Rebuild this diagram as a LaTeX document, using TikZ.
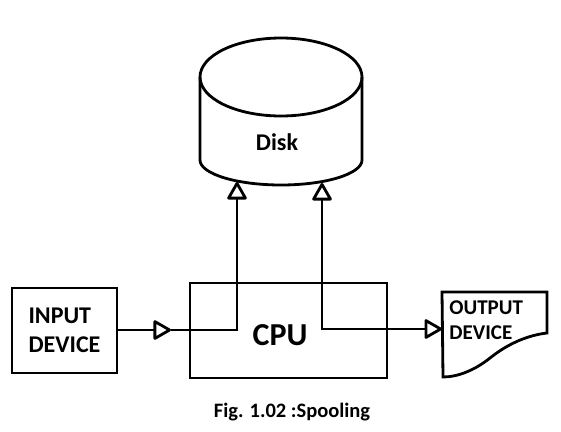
\documentclass[tikz,border=0pt]{standalone}
\usepackage{fontspec}
\setmainfont{Carlito}
\usetikzlibrary{arrows.meta}
\begin{document}
\begin{tikzpicture}[x=1pt,y=-1pt,
  line width=2.8pt,
  box/.style={draw, line width=2.8pt, inner sep=0pt},
  lbl/.style={font=\bfseries\fontsize{24}{29}\selectfont, align=left, inner sep=0pt},
  tri/.style={-{Triangle[open, length=19pt, width=21pt, round]}},
  tritwo/.style={{Triangle[open, length=19pt, width=21pt, round]}-{Triangle[open, length=19pt, width=21pt, round]}}
]
\useasboundingbox (0,0) rectangle (561,431);
% Disk
\draw (281,77) ellipse [x radius=81pt, y radius=39pt];
\draw (200,77) -- (200,160) arc [start angle=180, end angle=360, x radius=81pt, y radius=25pt] -- (362,77);
\node[lbl] (disk) at (277,142) {Disk};
\coordinate (diskL) at (237,182);
\coordinate (diskR) at (322,183);
% Input
\node[box, minimum width=105pt, minimum height=85pt, lbl] (in) at (64.5,330.5) {INPUT\\DEVICE};
% CPU
\node[box, minimum width=197pt, minimum height=95pt] (cpu) at (288.5,330.5) {};
\node[font=\bfseries\fontsize{32}{32}\selectfont, inner sep=0pt] (cputext) at (280,335) {CPU};
% Output
\coordinate (outW) at (442,329);
\draw (442,292) -- (547,292) -- (547,333)
  .. controls (530,335) and (510,342) .. (490,358)
  .. controls (475,370) and (458,377) .. (443,377) -- cycle;
\node[lbl, font=\bfseries\fontsize{21}{25}\selectfont, anchor=west] (out) at (448,320.5) {OUTPUT\\DEVICE};
% connectors
\coordinate (midtip) at (171,330);
\draw[tri] (in.east |- midtip) -- (midtip);
\draw[tri] (midtip) -- (237,330) -- (diskL);
\draw[tritwo] (diskR) -- (322,329) -- (outW);
% caption
\node[font=\bfseries\fontsize{20.5}{20.5}\selectfont, inner sep=0pt] (cap) at (292,412) {Fig. 1.02 :Spooling};
\end{tikzpicture}
\end{document}
